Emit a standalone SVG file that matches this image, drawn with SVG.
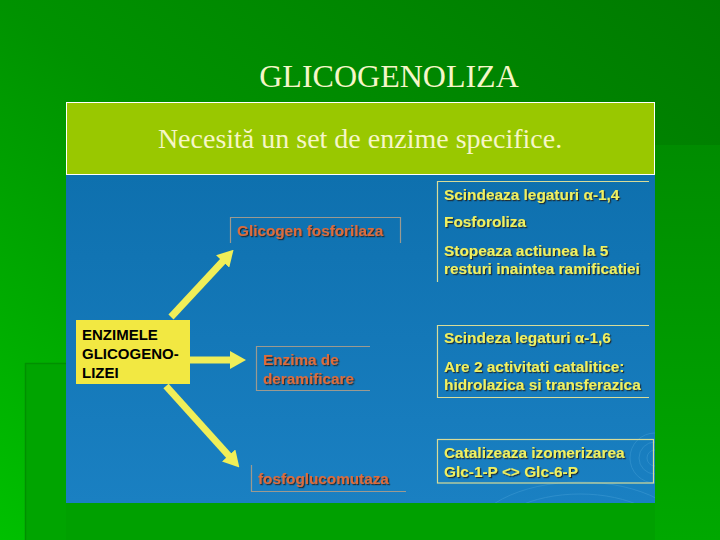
<svg xmlns="http://www.w3.org/2000/svg" width="720" height="540" viewBox="0 0 720 540">
<defs>
<linearGradient id="bg" x1="1" y1="0" x2="0" y2="1">
<stop offset="0" stop-color="#007a00"/>
<stop offset="0.5" stop-color="#009200"/>
<stop offset="1" stop-color="#00c000"/>
</linearGradient>
<linearGradient id="rightbg" x1="0" y1="0" x2="0" y2="1">
<stop offset="0" stop-color="#008c00"/>
<stop offset="1" stop-color="#00a800"/>
</linearGradient>
<linearGradient id="blue" x1="0" y1="0" x2="0" y2="1">
<stop offset="0" stop-color="#0e70ae"/>
<stop offset="1" stop-color="#1a80c2"/>
</linearGradient>
<clipPath id="panelclip"><rect x="66" y="175" width="589" height="328"/></clipPath>
<filter id="sh" x="-5%" y="-20%" width="110%" height="150%">
<feDropShadow dx="1.2" dy="1.2" stdDeviation="0.4" flood-color="#1a1a1a" flood-opacity="0.85"/>
</filter>
<marker id="ah" viewBox="0 0 16 18" refX="2" refY="9" markerWidth="16" markerHeight="18" markerUnits="userSpaceOnUse" orient="auto">
<path d="M0,0 L16,9 L0,18 Z" fill="#f0ee58"/>
</marker>
<style>
.arrow{stroke:#f0ee58;stroke-width:7;fill:none}
.lbl{font-family:"Liberation Sans",Arial,sans-serif;font-weight:bold;font-size:15.3px;fill:#dc6c3c}
.desc{font-family:"Liberation Sans",Arial,sans-serif;font-weight:bold;font-size:15.4px;fill:#f0f060}
.bx{stroke:#9c9a90;stroke-width:1.2;fill:none}
.bxr{stroke:#d8dc98;stroke-width:1.2;fill:none}
.ttl{font-family:"Liberation Serif","Times New Roman",serif;fill:#f6f6c8}
</style>
</defs>

<!-- background -->
<rect x="0" y="0" width="720" height="540" fill="url(#bg)"/>
<rect x="25" y="363" width="41" height="177" fill="#00a400"/>
<line x1="25.5" y1="363" x2="25.5" y2="540" stroke="#009000" stroke-width="1.5"/>
<line x1="25" y1="363.5" x2="66" y2="363.5" stroke="#009000" stroke-width="1.5"/>
<rect x="655" y="145" width="65" height="395" fill="url(#rightbg)"/>
<rect x="66" y="503" width="589" height="37" fill="#00a000"/>

<!-- title -->
<text class="ttl" x="389" y="87" font-size="32" text-anchor="middle">GLICOGENOLIZA</text>

<!-- header panel -->
<g id="header">
<rect x="66.5" y="102.5" width="588" height="72" fill="#99c800" stroke="#ffffff" stroke-width="1"/>
<text class="ttl" x="360" y="148" font-size="28" text-anchor="middle">Necesită un set de enzime specifice.</text>
</g>

<!-- blue panel -->
<rect x="66" y="175" width="589" height="328" fill="url(#blue)"/>
<g clip-path="url(#panelclip)" fill="none" stroke="#5aaee0" stroke-width="1" opacity="0.3">
<circle cx="655" cy="458" r="8"/>
<circle cx="655" cy="458" r="16"/>
<circle cx="655" cy="458" r="25"/>
<ellipse cx="580" cy="540" rx="70" ry="35"/>
<ellipse cx="580" cy="540" rx="90" ry="46"/>
<ellipse cx="580" cy="540" rx="110" ry="58"/>
</g>

<!-- connectors -->
<g id="connectors">
<line class="arrow" x1="171" y1="317" x2="224" y2="260" marker-end="url(#ah)"/>
<line class="arrow" x1="190" y1="360" x2="232" y2="360" marker-end="url(#ah)"/>
<line class="arrow" x1="166" y1="386" x2="230" y2="457" marker-end="url(#ah)"/>
</g>

<!-- central node -->
<g id="enzimele">
<rect x="76" y="320" width="114" height="64" fill="#f2e842"/>
<g font-family="'Liberation Sans',Arial,sans-serif" font-weight="bold" font-size="15" fill="#000000">
<text x="82" y="340">ENZIMELE</text>
<text x="82" y="359">GLICOGENO-</text>
<text x="82" y="378">LIZEI</text>
</g>
</g>

<!-- enzyme labels -->
<g id="glicogen-fosforilaza">
<path class="bx" d="M230.5,243 V217.5 H400.5 V243"/>
<text class="lbl" x="237" y="236" filter="url(#sh)">Glicogen fosforilaza</text>
</g>
<g id="enzima-deramificare">
<path class="bx" d="M370,346.5 H256.5 V390.5 H370"/>
<text class="lbl" x="263" y="365" filter="url(#sh)">Enzima de</text>
<text class="lbl" x="263" y="384" filter="url(#sh)">deramificare</text>
</g>
<g id="fosfoglucomutaza">
<path class="bx" d="M251.5,465 V491.5 H406"/>
<text class="lbl" x="258" y="484" filter="url(#sh)">fosfoglucomutaza</text>
</g>

<!-- descriptions -->
<g id="desc-fosforilaza">
<path class="bxr" d="M649,181.5 H437.5 V282"/>
<text class="desc" x="444" y="200" filter="url(#sh)">Scindeaza legaturi α-1,4</text>
<text class="desc" x="444" y="227" filter="url(#sh)">Fosforoliza</text>
<text class="desc" x="444" y="256" filter="url(#sh)">Stopeaza actiunea la 5</text>
<text class="desc" x="444" y="274" filter="url(#sh)">resturi inaintea ramificatiei</text>
</g>
<g id="desc-deramificare">
<path class="bxr" d="M649,325.5 H437.5 V397.5 H649"/>
<text class="desc" x="444" y="343" filter="url(#sh)">Scindeza legaturi α-1,6</text>
<text class="desc" x="444" y="372" filter="url(#sh)">Are 2 activitati catalitice:</text>
<text class="desc" x="444" y="390" filter="url(#sh)">hidrolazica si transferazica</text>
</g>
<g id="desc-fosfoglucomutaza">
<rect class="bxr" x="437.5" y="439.5" width="216" height="43.5"/>
<text class="desc" x="444" y="458" filter="url(#sh)">Catalizeaza izomerizarea</text>
<text class="desc" x="444" y="477" filter="url(#sh)">Glc-1-P &lt;&gt; Glc-6-P</text>
</g>
</svg>
